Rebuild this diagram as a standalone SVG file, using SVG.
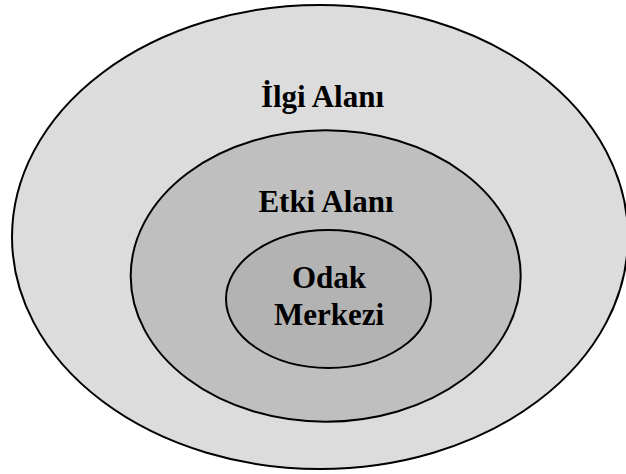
<svg xmlns="http://www.w3.org/2000/svg" width="626" height="474" viewBox="0 0 626 474">
<style>
.ring{stroke:#000;stroke-width:2}
.lbl{font-family:"Liberation Serif","Times New Roman",serif;font-weight:bold;font-size:31px;fill:#000;text-anchor:middle}
</style>
<rect width="626" height="474" fill="#fff"/>
<g id="ilgi-alani">
<ellipse class="ring" cx="320" cy="237" rx="308" ry="232" fill="#dcdcdc"/>
<text class="lbl" x="322.5" y="107">İlgi Alanı</text>
</g>
<g id="etki-alani">
<ellipse class="ring" cx="325.7" cy="276" rx="195" ry="145.7" fill="#bfbfbf"/>
<text class="lbl" x="326" y="212">Etki Alanı</text>
</g>
<g id="odak-merkezi">
<ellipse class="ring" cx="328.5" cy="299" rx="102.5" ry="69" fill="#b3b3b3"/>
<text class="lbl" x="329" y="288">Odak</text>
<text class="lbl" x="329" y="325">Merkezi</text>
</g>
<g id="connectors"/>
</svg>
